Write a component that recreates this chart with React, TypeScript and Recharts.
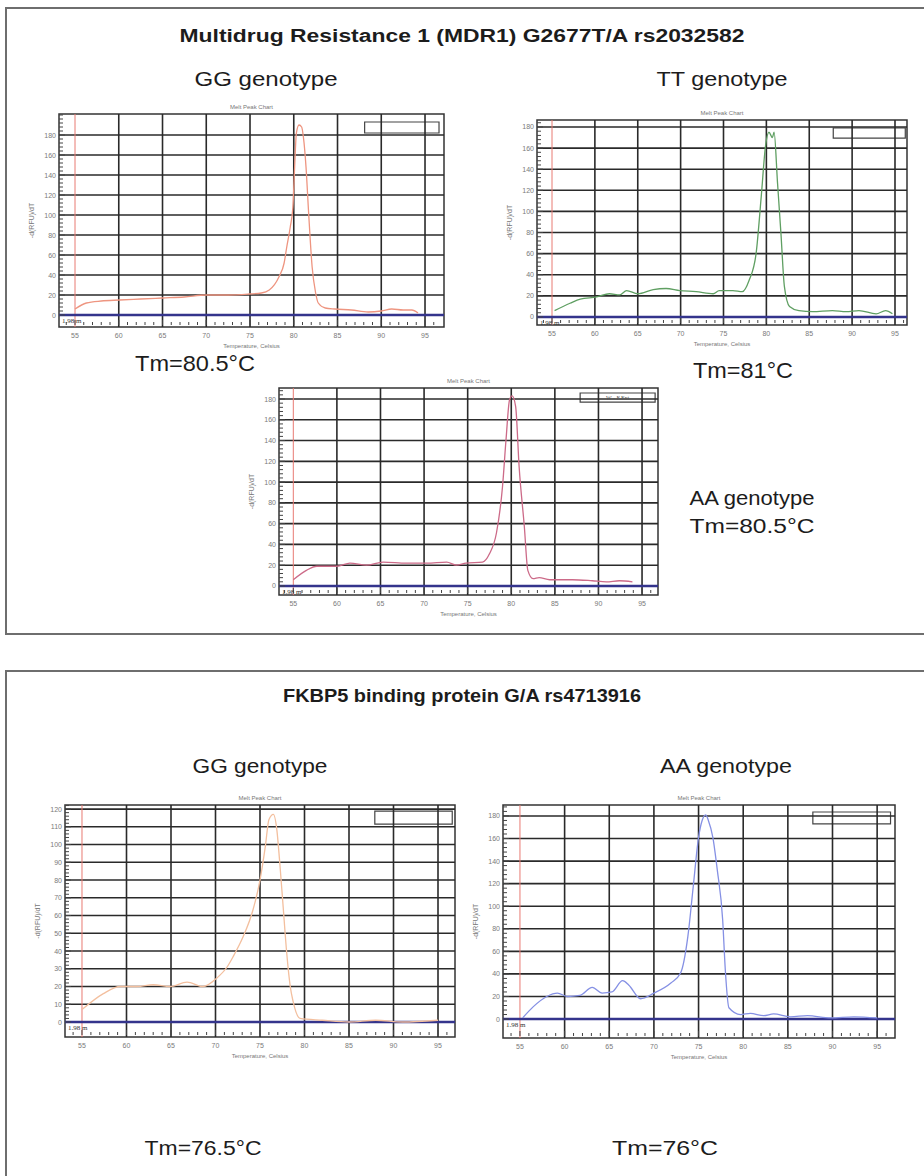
import React from "react";
import {
  LineChart,
  Line,
  XAxis,
  YAxis,
  ReferenceLine,
  ReferenceArea,
} from "recharts";

// MDR1 G2677T/A, GG genotype
const mdrGgTemp = [55, 56.3, 58, 60.1, 62.5, 65, 67.5, 70, 72.5, 74.9, 76.3, 77.2, 78.3, 78.9, 79.2, 79.6, 79.9, 80.1, 80.3, 80.6, 80.9, 81.1, 81.4, 81.7, 82.1, 82.5, 82.8, 83.6, 84.7, 86.6, 88.5, 90, 91.2, 92.5, 93.5, 94.2];
const mdrGgDrfu = [6, 12, 14, 15, 16, 17, 18, 20, 20, 21, 22, 25, 38, 52, 68, 88, 108, 148, 182, 190, 188, 178, 148, 102, 48, 22, 12, 7, 6, 5, 3, 4, 6, 5, 5, 2];

// MDR1 G2677T/A, TT genotype
const mdrTtTemp = [55.3, 57.1, 58.3, 60.2, 61.7, 62.9, 63.7, 65, 66.8, 68.3, 69.9, 71.8, 73.8, 74.5, 76.1, 77.2, 78, 78.8, 79.4, 79.9, 80.3, 80.7, 80.9, 81.3, 81.7, 82.1, 82.7, 83.8, 85.4, 87.7, 89.3, 90.8, 92.8, 93.9, 94.7];
const mdrTtDrfu = [6, 13, 17, 19, 22, 21, 25, 22, 26, 27, 25, 24, 22, 25, 25, 24, 35, 60, 114, 162, 175, 170, 175, 127, 79, 29, 10, 6, 5, 6, 5, 6, 3, 6, 3];

// MDR1 G2677T/A, AA genotype
const mdrAaTemp = [55, 56.5, 57.7, 60, 61.5, 63.4, 65.3, 68, 70.3, 72.6, 73.7, 74.8, 76.7, 77.5, 78.3, 79, 79.4, 79.8, 80.1, 80.5, 80.9, 81.5, 81.9, 82.5, 83.2, 84.4, 87, 89.3, 90.9, 92.4, 93.9];
const mdrAaDrfu = [6, 15, 19, 19, 22, 20, 23, 22, 22, 23, 20, 22, 23, 31, 51, 96, 141, 179, 183, 173, 115, 57, 15, 7, 8, 6, 6, 5, 4, 5, 4];

// FKBP5 G/A, GG genotype
const fkGgTemp = [55, 57.4, 59.3, 61.2, 63, 64.9, 66.8, 68.6, 70.2, 71.3, 72, 73.1, 74.2, 75, 75.6, 76, 76.5, 76.9, 77.2, 77.6, 78, 78.4, 78.7, 79.5, 82, 85, 88, 91, 95];
const fkGgDrfu = [7, 16, 20, 20, 21, 20, 22.5, 20, 25, 31, 37, 48, 63, 80, 99, 114, 117, 108, 91, 65, 39, 20, 12, 2, 1, 0, 1, 0, 1];

// FKBP5 G/A, AA genotype
const fkAaTemp = [55.3, 56.5, 58, 59.2, 60.3, 61.7, 63.1, 64.2, 65.3, 66.5, 67.2, 68.5, 70, 71.9, 73, 73.8, 74.4, 75, 75.4, 75.8, 76.1, 76.6, 77.1, 77.7, 78, 78.4, 79.7, 80.8, 82.3, 83.4, 85.3, 87.2, 89.8, 92.4, 95];
const fkAaDrfu = [1, 11, 20, 23, 20, 21, 28, 23, 24, 34, 30, 18, 23, 32, 41, 73, 117, 161, 176, 181, 176, 161, 132, 88, 43, 10, 4, 5, 3, 4.5, 2, 3, 1, 2, 1];

// axis ticks
const xGridTicks = [60, 65, 70, 75, 80, 85, 90, 95];
const xAllTicks = [54, 55, 56, 57, 58, 59, 60, 61, 62, 63, 64, 65, 66, 67, 68, 69, 70, 71, 72, 73, 74, 75, 76, 77, 78, 79, 80, 81, 82, 83, 84, 85, 86, 87, 88, 89, 90, 91, 92, 93, 94, 95, 96];
const yTicks180 = [0, 20, 40, 60, 80, 100, 120, 140, 160, 180];
const yTicks120 = [0, 10, 20, 30, 40, 50, 60, 70, 80, 90, 100, 110, 120];

const Y_W = 30;
const X_H = 22;
const M_TOP = 4;
const M_RIGHT = 4;
const FONT = "'Liberation Sans', Arial, sans-serif";

type Cfg = {
  temps: number[];
  values: number[];
  color: string;
  left: number;
  top: number;
  right: number;
  bottom: number;
  xDomain: [number, number];
  yDomain: [number, number];
  yMajor: number[];
  yMinorStep: number;
  legend: [number, number, number, number];
  legendText?: string;
};

const charts: Cfg[] = [
  {
    temps: mdrGgTemp, values: mdrGgDrfu, color: "#ee9580",
    left: 59, top: 114, right: 444, bottom: 327,
    xDomain: [53.17, 97.17], yDomain: [-12, 201],
    yMajor: yTicks180, yMinorStep: 4, legend: [88.1, 96.6, 193, 182],
  },
  {
    temps: mdrTtTemp, values: mdrTtDrfu, color: "#5f9f62",
    left: 537, top: 120, right: 907, bottom: 325,
    xDomain: [53.25, 96.4], yDomain: [-7.6, 186.6],
    yMajor: yTicks180, yMinorStep: 4, legend: [87.8, 96.2, 179, 169.5],
  },
  {
    temps: mdrAaTemp, values: mdrAaDrfu, color: "#cc6a88",
    left: 279, top: 388, right: 658, bottom: 595,
    xDomain: [53.36, 96.83], yDomain: [-8.7, 190.6],
    yMajor: yTicks180, yMinorStep: 4, legend: [87.9, 96.5, 185.8, 177], legendText: "W - F.Ext",
  },
  {
    temps: fkGgTemp, values: fkGgDrfu, color: "#f3bf9e",
    left: 65, top: 805, right: 455, bottom: 1037,
    xDomain: [53.09, 96.91], yDomain: [-8.45, 122.3],
    yMajor: yTicks120, yMinorStep: 2, legend: [87.9, 96.6, 118.9, 111.5],
  },
  {
    temps: fkAaTemp, values: fkAaDrfu, color: "#8590e4",
    left: 503, top: 805, right: 895, bottom: 1038,
    xDomain: [53.1, 97.0], yDomain: [-16.8, 189.7],
    yMajor: yTicks180, yMinorStep: 4, legend: [87.8, 96.5, 183.5, 172.9],
  },
];

function XTick(props: any) {
  const { x, y, payload } = props;
  const major = payload.value % 5 === 0;
  return (
    <g>
      <line x1={x} x2={x} y1={y - 2} y2={y - (major ? 7 : 5)} stroke="#444" strokeWidth={1} />
      {major && (
        <text x={x} y={y + 11} textAnchor="middle" fontSize={7} fill="#7a7a7a" fontFamily={FONT}>
          {payload.value}
        </text>
      )}
    </g>
  );
}

function makeYTick(majors: number[]) {
  return function YTick(props: any) {
    const { x, y, payload } = props;
    const major = majors.includes(payload.value);
    return (
      <g>
        <line x1={x} x2={x + (major ? 6 : 4)} y1={y} y2={y} stroke="#444" strokeWidth={1} />
        {major && (
          <text x={x - 3} y={y + 2.5} textAnchor="end" fontSize={7} fill="#7a7a7a" fontFamily={FONT}>
            {payload.value}
          </text>
        )}
      </g>
    );
  };
}

function MeltChart({ cfg }: { cfg: Cfg }) {
  const data = cfg.temps.map((t, i) => ({ t, v: cfg.values[i] }));
  const plotW = cfg.right - cfg.left;
  const plotH = cfg.bottom - cfg.top;
  const yMinor: number[] = [];
  for (let v = 0; v <= cfg.yDomain[1]; v += cfg.yMinorStep) yMinor.push(v);
  const [lx1, lx2, ly1, ly2] = cfg.legend;

  return (
    <div style={{ position: "absolute", left: cfg.left - Y_W, top: cfg.top - M_TOP }}>
      <LineChart
        width={Y_W + plotW + M_RIGHT}
        height={M_TOP + plotH + X_H}
        data={data}
        margin={{ top: M_TOP, right: M_RIGHT, bottom: 0, left: 0 }}
      >
        <XAxis
          dataKey="t"
          type="number"
          domain={cfg.xDomain}
          allowDataOverflow
          ticks={xAllTicks}
          interval={0}
          tick={XTick}
          tickLine={false}
          axisLine={false}
          tickSize={0}
          tickMargin={0}
          height={X_H}
        />
        <YAxis
          type="number"
          domain={cfg.yDomain}
          allowDataOverflow
          ticks={yMinor}
          interval={0}
          tick={makeYTick(cfg.yMajor)}
          tickLine={false}
          axisLine={false}
          tickSize={0}
          tickMargin={0}
          width={Y_W}
        />
        {xGridTicks.map((v) => (
          <ReferenceLine key={"x" + v} x={v} stroke="#2a2a2a" strokeWidth={1.6} />
        ))}
        {cfg.yMajor
          .filter((v) => v !== 0)
          .map((v) => (
            <ReferenceLine key={"y" + v} y={v} stroke="#2a2a2a" strokeWidth={1.6} />
          ))}
        <ReferenceLine x={55} stroke="#e87a72" strokeWidth={1} />
        <ReferenceLine
          y={0}
          stroke="#34348c"
          strokeWidth={2.4}
          label={{ value: "1.98 m", position: "insideTopLeft", fontSize: 7, fill: "#333", offset: 3 }}
        />
        <ReferenceArea
          x1={cfg.xDomain[0]}
          x2={cfg.xDomain[1]}
          y1={cfg.yDomain[0]}
          y2={cfg.yDomain[1]}
          fill="none"
          stroke="#333"
          strokeWidth={1.5}
          ifOverflow="visible"
        />
        <ReferenceArea
          x1={lx1}
          x2={lx2}
          y1={ly2}
          y2={ly1}
          fill="#fff"
          fillOpacity={1}
          stroke="#444"
          strokeWidth={1.2}
          ifOverflow="visible"
          label={cfg.legendText ? { value: cfg.legendText, fontSize: 6, fill: "#555" } : undefined}
        />
        <Line
          dataKey="v"
          type="monotone"
          stroke={cfg.color}
          strokeWidth={1.3}
          dot={false}
          isAnimationActive={false}
        />
      </LineChart>
    </div>
  );
}

type TextItem = { text: string; x: number; y: number; w: number; size: number; bold?: boolean };

const bigTexts: TextItem[] = [
  { text: "Multidrug Resistance 1 (MDR1) G2677T/A rs2032582", x: 462, y: 42, w: 565, size: 18, bold: true },
  { text: "GG genotype", x: 266, y: 86, w: 143, size: 20 },
  { text: "TT genotype", x: 722, y: 86, w: 131, size: 20 },
  { text: "Tm=80.5°C", x: 195, y: 371, w: 120, size: 22 },
  { text: "Tm=81°C", x: 743, y: 378, w: 100, size: 22 },
  { text: "AA genotype", x: 752, y: 505, w: 125, size: 20 },
  { text: "Tm=80.5°C", x: 752, y: 533, w: 125, size: 20 },
  { text: "FKBP5 binding protein G/A rs4713916", x: 462, y: 702, w: 358, size: 18, bold: true },
  { text: "GG genotype", x: 260, y: 773, w: 135, size: 20 },
  { text: "AA genotype", x: 726, y: 773, w: 132, size: 20 },
  { text: "Tm=76.5°C", x: 203, y: 1155, w: 117, size: 20 },
  { text: "Tm=76°C", x: 665, y: 1155, w: 106, size: 20 },
];

export default function App() {
  return (
    <div style={{ position: "absolute", left: 0, top: 0, width: 924, height: 1176, background: "#fff", overflow: "hidden" }}>
      <svg width={924} height={1176} style={{ position: "absolute", left: 0, top: 0 }}>
        <rect x={6} y={8} width={940} height={626} fill="none" stroke="#6e6e6e" strokeWidth={2} />
        <rect x={6} y={671} width={940} height={540} fill="none" stroke="#6e6e6e" strokeWidth={2} />
        {bigTexts.map((t, i) => (
          <text
            key={i}
            x={t.x - t.w / 2}
            y={t.y}
            textLength={t.w}
            lengthAdjust="spacingAndGlyphs"
            fontSize={t.size}
            fontWeight={t.bold ? 700 : 400}
            fill="#1c1c1c"
            fontFamily={FONT}
          >
            {t.text}
          </text>
        ))}
        {charts.map((c, i) => {
          const cx = (c.left + c.right) / 2;
          const cy = (c.top + c.bottom) / 2;
          return (
            <g key={"lab" + i} fontFamily={FONT} fill="#777">
              <text x={cx} y={c.top - 5} textAnchor="middle" fontSize={6}>Melt Peak Chart</text>
              <text x={cx} y={c.bottom + 21} textAnchor="middle" fontSize={6}>Temperature, Celsius</text>
              <text
                x={c.left - 25}
                y={cy}
                textAnchor="middle"
                fontSize={7}
                transform={`rotate(-90 ${c.left - 25} ${cy})`}
              >
                -d(RFU)/dT
              </text>
            </g>
          );
        })}
      </svg>
      {charts.map((c, i) => (
        <MeltChart key={i} cfg={c} />
      ))}
    </div>
  );
}
